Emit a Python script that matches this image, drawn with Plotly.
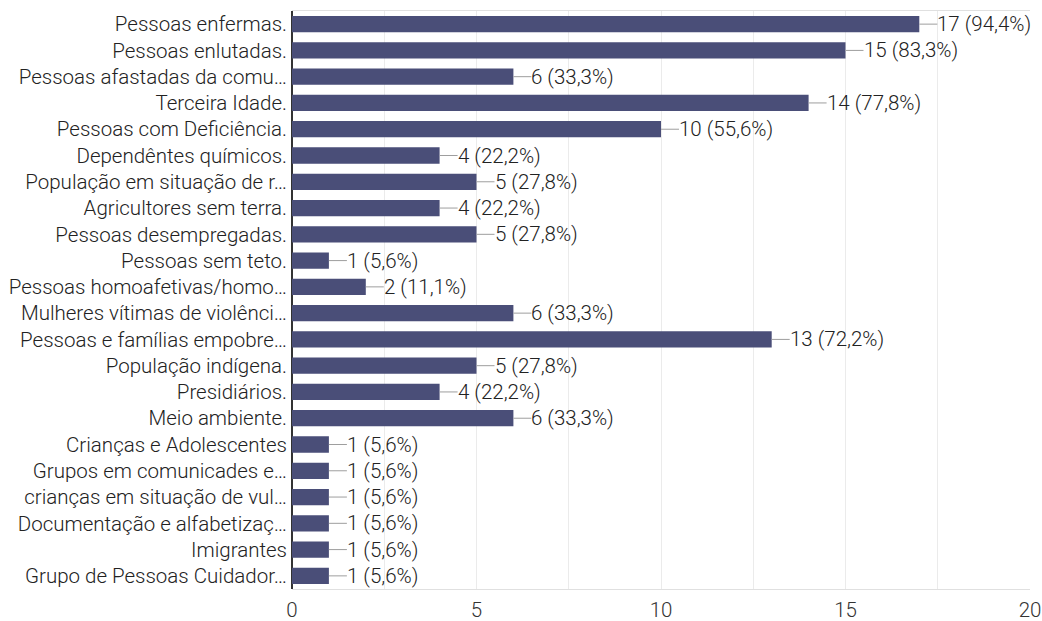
import plotly.graph_objects as go

categories = [
    "Pessoas enfermas.",
    "Pessoas enlutadas.",
    "Pessoas afastadas da comu…",
    "Terceira Idade.",
    "Pessoas com Deficiência.",
    "Dependêntes químicos.",
    "População em situação de r…",
    "Agricultores sem terra.",
    "Pessoas desempregadas.",
    "Pessoas sem teto.",
    "Pessoas homoafetivas/homo…",
    "Mulheres vítimas de violênci…",
    "Pessoas e famílias empobre…",
    "População indígena.",
    "Presidiários.",
    "Meio ambiente.",
    "Crianças e Adolescentes",
    "Grupos em comunicades e…",
    "crianças em situação de vul…",
    "Documentação e alfabetizaç…",
    "Imigrantes",
    "Grupo de Pessoas Cuidador…",
]
counts = [17, 15, 6, 14, 10, 4, 5, 4, 5, 1, 2, 6, 13, 5, 4, 6, 1, 1, 1, 1, 1, 1]
total = 18
labels = [f"{c} ({c / total * 100:.1f}%)".replace(".", ",") for c in counts]

FONT = "Roboto"
FS = 20.5
WEIGHT = 300
BAR = "#4a4e78"

fig = go.Figure()
fig.add_trace(go.Bar(
    x=counts, y=categories, orientation="h",
    marker=dict(color=BAR, line=dict(width=0)),
    hoverinfo="skip",
))

for c, cat, lab in zip(counts, categories, labels):
    fig.add_annotation(
        x=c, y=cat, xref="x", yref="y", text=lab,
        showarrow=True, arrowhead=0, arrowwidth=1, arrowcolor="#9e9e9e",
        ax=18, ay=0, xanchor="left", standoff=0, startstandoff=0,
        borderpad=0, borderwidth=0,
        font=dict(family=FONT, size=FS, color="#222222", weight=WEIGHT),
    )

fig.update_layout(
    width=1042, height=621,
    margin=dict(l=292, r=12, t=11, b=32, autoexpand=False),
    paper_bgcolor="white", plot_bgcolor="white",
    bargap=0.38,
    showlegend=False,
    font=dict(family=FONT, size=FS, color="#222222", weight=WEIGHT),
    xaxis=dict(
        range=[0, 20], dtick=5, tick0=0, automargin=False,
        showgrid=True, gridcolor="#ebebeb", gridwidth=1,
        minor=dict(dtick=2.5, tick0=0, showgrid=True, gridcolor="#ebebeb", gridwidth=1),
        zeroline=True, zerolinecolor="#333333", zerolinewidth=1.5,
        showline=True, linecolor="#e0e0e0", linewidth=1, mirror=True,
        ticks="", ticklabelstandoff=2,
        tickfont=dict(family=FONT, size=FS, color="#333333", weight=WEIGHT),
        fixedrange=True,
    ),
    yaxis=dict(
        autorange="reversed", type="category", automargin=False,
        showgrid=False, showline=False, ticks="", ticklen=0,
        ticklabelstandoff=4,
        tickfont=dict(family=FONT, size=FS, color="#222222", weight=WEIGHT),
        fixedrange=True,
    ),
)

fig.write_html("out.html")
